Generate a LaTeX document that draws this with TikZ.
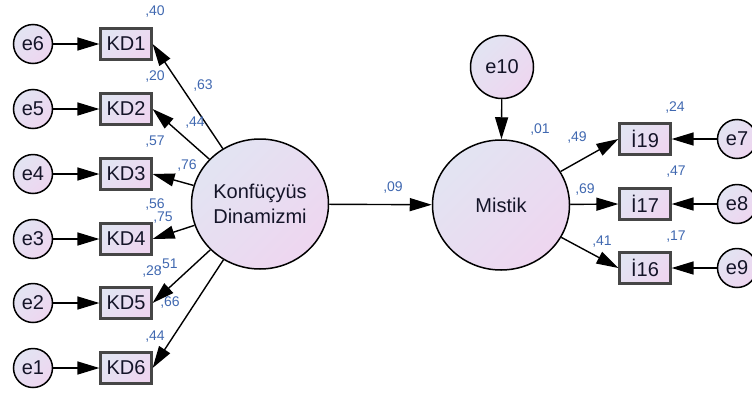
\documentclass[tikz,border=0pt]{standalone}
\usepackage{fontspec}
\setmainfont{Liberation Sans}
\usetikzlibrary{arrows.meta,shapes.geometric}
\definecolor{lavA}{RGB}{226,228,242}
\definecolor{lavB}{RGB}{238,214,240}
\definecolor{wtblue}{RGB}{64,104,176}
\definecolor{boxline}{RGB}{70,70,70}
\definecolor{ink}{RGB}{20,20,40}

\begin{document}
\begin{tikzpicture}[x=1pt,y=-1pt,
  lav/.style={top color=lavA, bottom color=lavB, shading angle=45},
  errc/.style={circle, draw=black, line width=1.5pt, lav, minimum size=39pt,
    inner sep=0pt, text=ink, font=\fontsize{20}{20}\selectfont},
  latent/.style={ellipse, draw=black, line width=1.5pt, lav, minimum width=137pt,
    minimum height=130pt, inner sep=0pt, text=ink, align=center,
    font=\fontsize{20}{25}\selectfont},
  obs/.style={rectangle, draw=boxline, line width=2.2pt, lav, minimum width=51pt,
    minimum height=31pt, inner sep=0pt, text=ink, font=\fontsize{20}{20}\selectfont},
  pathar/.style={draw=black, line width=1.4pt, -{Triangle[length=22pt,width=13pt]}},
  est/.style={text=wtblue, inner sep=0pt, font=\fontsize{14}{14}\selectfont}
]
\useasboundingbox (0,0) rectangle (752,394);

% error terms of the indicators
\node[errc] (e6) at (33,44)  {e6};
\node[errc] (e5) at (33,109) {e5};
\node[errc] (e4) at (33,174) {e4};
\node[errc] (e3) at (33,239) {e3};
\node[errc] (e2) at (33,303) {e2};
\node[errc] (e1) at (33,368) {e1};

% observed indicators
\node[obs] (KD1) at (126,44)  {KD1};
\node[obs] (KD2) at (126,109) {KD2};
\node[obs] (KD3) at (126,174) {KD3};
\node[obs] (KD4) at (126,239) {KD4};
\node[obs] (KD5) at (126,303) {KD5};
\node[obs] (KD6) at (126,368) {KD6};

% latent variables
\node[latent] (K) at (260,204) {Konfüçyüs\\Dinamizmi};
\node[latent] (M) at (501,205) {Mistik};
\node[errc, minimum size=63pt] (e10) at (502,67) {e10};

% right-hand indicators and their errors
\node[obs] (I19) at (645,139) {İ19};
\node[obs] (I17) at (645,204) {İ17};
\node[obs] (I16) at (645,268) {İ16};
\node[errc] (e7) at (737,139) {e7};
\node[errc] (e8) at (737,204) {e8};
\node[errc] (e9) at (737,268) {e9};

% paths
\draw[pathar] (e6) -- (KD1);
\draw[pathar] (e5) -- (KD2);
\draw[pathar] (e4) -- (KD3);
\draw[pathar] (e3) -- (KD4);
\draw[pathar] (e2) -- (KD5);
\draw[pathar] (e1) -- (KD6);
\draw[pathar] (K) -- (KD1.east);
\draw[pathar] (K) -- (KD2.east);
\draw[pathar] (K) -- (KD3.east);
\draw[pathar] (K) -- (KD4.east);
\draw[pathar] (K) -- (KD5.east);
\draw[pathar] (K) -- (KD6.east);
\draw[pathar] (K) -- (M);
\draw[pathar] (e10) -- (M);
\draw[pathar] (M) -- (I19.west);
\draw[pathar] (M) -- (I17.west);
\draw[pathar] (M) -- (I16.west);
\draw[pathar] (e7) -- (I19);
\draw[pathar] (e8) -- (I17);
\draw[pathar] (e9) -- (I16);

% squared multiple correlations
\node[est] (r1) at (155,12)  {,40};
\node[est] (r2) at (155,77)  {,20};
\node[est] (r3) at (155,142) {,57};
\node[est] (r4) at (155,205) {,56};
\node[est] (r5) at (152,272) {,28};
\node[est] (r6) at (155,337) {,44};
\node[est] (rM) at (540,130) {,01};
\node[est] (r19) at (675,108) {,24};
\node[est] (r17) at (676,172) {,47};
\node[est] (r16) at (676,237) {,17};

% standardized loadings
\node[est] (l1) at (203,86)  {,63};
\node[est] (l2) at (195,123) {,44};
\node[est] (l3) at (187,166) {,76};
\node[est] (l4) at (163,218) {,75};
\node[est] (l5) at (168,265) {,51};
\node[est] (l6) at (170,303) {,66};
\node[est] (lKM) at (393,188) {,09};
\node[est] (l19) at (577,138) {,49};
\node[est] (l17) at (585,190) {,69};
\node[est] (l16) at (602,242) {,41};
\end{tikzpicture}
\end{document}
